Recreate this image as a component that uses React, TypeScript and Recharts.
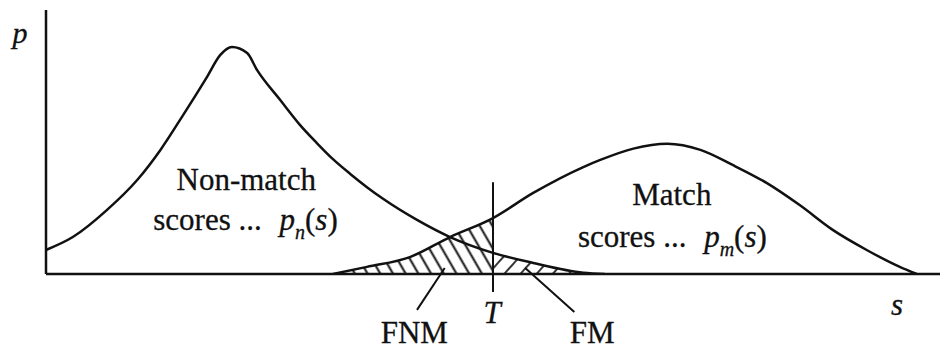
import * as React from 'react'
import { ComposedChart, Line, Area, XAxis, YAxis, ReferenceLine, ReferenceDot } from 'recharts'

// score axis runs 0..100, density axis 0..100 (arbitrary units)
const S_NONMATCH = [0, 3.0, 6.8, 10.2, 12.8, 15.3, 18.0, 19.5, 20.8, 22.5, 23.6, 26.2, 28.4, 30.3, 32.1, 34.0, 35.9, 37.7, 41.5, 45.2, 50.0, 54.5, 60.1, 62.5]
const P_NONMATCH = [9.1, 14.0, 24.2, 35.6, 47.0, 60.0, 74.6, 83.0, 86.0, 83.7, 77.3, 65.9, 56.5, 49.6, 43.5, 38.0, 32.9, 28.5, 20.5, 14.0, 8.0, 4.2, 0.5, 0]

const S_MATCH = [32.1, 35.9, 40.7, 45.2, 50.0, 54.5, 60.1, 62.0, 65.7, 69.5, 73.2, 76.8, 80.6, 84.3, 88.0, 91.8, 95.5, 97.4]
const P_MATCH = [0, 2.7, 6.4, 14.0, 21.2, 30.7, 40.5, 43.2, 47.5, 49.3, 47.0, 41.3, 34.5, 26.1, 16.7, 9.1, 2.7, 0]

const THRESHOLD = 50

const nonMatchData = S_NONMATCH.map((s, i) => ({ s, p: P_NONMATCH[i] }))
const matchData = S_MATCH.map((s, i) => ({ s, p: P_MATCH[i] }))
// false non-match: match scores below T; false match: non-match scores above T
const fnmData = matchData.filter((d) => d.s <= THRESHOLD)
const fmData = nonMatchData.filter((d) => d.s >= THRESHOLD)

const INK = '#111'
const FONT = "'Liberation Serif', 'Times New Roman', serif"

type Part = { text: string; italic?: boolean; size?: number; dx?: number; dy?: number }

function Note({ viewBox, parts, anchor = 'middle' }: { viewBox?: any; parts: Part[]; anchor?: string }) {
  const vb = viewBox || { x: 0, y: 0, width: 0, height: 0 }
  const x = vb.x + (vb.width || 0) / 2
  const y = vb.y + (vb.height || 0) / 2
  return (
    <text x={x} y={y} textAnchor={anchor} fontFamily={FONT} fontSize={31} fill={INK} stroke={INK} strokeWidth={0.3}>
      {parts.map((p, i) => (
        <tspan key={i} fontStyle={p.italic ? 'italic' : 'normal'} fontSize={p.size || 31} dx={p.dx} dy={p.dy}>
          {p.text}
        </tspan>
      ))}
    </text>
  )
}

function dotLabel(parts: Part[], anchor = 'middle') {
  return (props: any) => <Note viewBox={props.viewBox} parts={parts} anchor={anchor} />
}

const noteProps = { r: 1, fill: 'none', stroke: 'none', ifOverflow: 'visible' as const }

export default function App() {
  return (
    <div style={{ width: 940, height: 352, background: '#fff' }}>
      <style>{'body{margin:0}'}</style>
      <ComposedChart width={940} height={352} margin={{ top: 10, right: 0, left: 45, bottom: 77 }}>
        <defs>
          <pattern id="hatchFnm" width="11" height="11" patternUnits="userSpaceOnUse" patternTransform="rotate(-30)">
            <line x1="5.5" y1="0" x2="5.5" y2="11" stroke={INK} strokeWidth={2} />
          </pattern>
          <pattern id="hatchFm" width="12" height="12" patternUnits="userSpaceOnUse" patternTransform="rotate(42)">
            <line x1="6" y1="0" x2="6" y2="12" stroke={INK} strokeWidth={1.7} />
          </pattern>
        </defs>
        <XAxis type="number" dataKey="s" domain={[0, 100]} allowDataOverflow tick={false} tickLine={false} height={1} axisLine={{ stroke: INK, strokeWidth: 2.5 }} />
        <YAxis type="number" dataKey="p" domain={[0, 100]} allowDataOverflow tick={false} tickLine={false} width={1} axisLine={{ stroke: INK, strokeWidth: 2.5 }} />

        <Area data={fnmData} dataKey="p" type="monotone" stroke="none" fill="url(#hatchFnm)" fillOpacity={1} isAnimationActive={false} />
        <Area data={fmData} dataKey="p" type="monotone" stroke="none" fill="url(#hatchFm)" fillOpacity={1} isAnimationActive={false} />

        <Line data={nonMatchData} dataKey="p" type="monotone" stroke={INK} strokeWidth={2.5} dot={false} activeDot={false} isAnimationActive={false} />
        <Line data={matchData} dataKey="p" type="monotone" stroke={INK} strokeWidth={2.5} dot={false} activeDot={false} isAnimationActive={false} />

        {/* threshold T */}
        <ReferenceLine segment={[{ x: THRESHOLD, y: -6.8 }, { x: THRESHOLD, y: 34.8 }]} stroke={INK} strokeWidth={2} ifOverflow="visible" />
        {/* leader lines */}
        <ReferenceLine segment={[{ x: 41.5, y: -13.6 }, { x: 44.6, y: 2.3 }]} stroke={INK} strokeWidth={2} ifOverflow="visible" />
        <ReferenceLine segment={[{ x: 59.1, y: -14.4 }, { x: 53.6, y: 2.3 }]} stroke={INK} strokeWidth={2} ifOverflow="visible" />

        <ReferenceDot x={-2.9} y={87.5} {...noteProps} label={dotLabel([{ text: 'p', italic: true, size: 30 }])} />
        <ReferenceDot x={95.2} y={-15.5} {...noteProps} label={dotLabel([{ text: 's', italic: true }])} />
        <ReferenceDot x={49.9} y={-18.6} {...noteProps} label={dotLabel([{ text: 'T', italic: true }])} />
        <ReferenceDot x={41.2} y={-26.1} {...noteProps} label={dotLabel([{ text: 'FNM' }])} />
        <ReferenceDot x={61.1} y={-26.1} {...noteProps} label={dotLabel([{ text: 'FM' }])} />

        <ReferenceDot x={22.4} y={31.8} {...noteProps} label={dotLabel([{ text: 'Non-match' }])} />
        <ReferenceDot
          x={12.0}
          y={16.7}
          {...noteProps}
          label={dotLabel(
            [
              { text: 'scores ... ' },
              { text: 'p', italic: true, dx: 10 },
              { text: 'n', italic: true, size: 20, dy: 9 },
              { text: '(', dy: -9 },
              { text: 's', italic: true },
              { text: ')' },
            ],
            'start'
          )}
        />
        <ReferenceDot x={70.0} y={26.1} {...noteProps} label={dotLabel([{ text: 'Match' }])} />
        <ReferenceDot
          x={59.5}
          y={10.2}
          {...noteProps}
          label={dotLabel(
            [
              { text: 'scores ... ' },
              { text: 'p', italic: true, dx: 10 },
              { text: 'm', italic: true, size: 20, dy: 9 },
              { text: '(', dy: -9 },
              { text: 's', italic: true },
              { text: ')' },
            ],
            'start'
          )}
        />
      </ComposedChart>
    </div>
  )
}
